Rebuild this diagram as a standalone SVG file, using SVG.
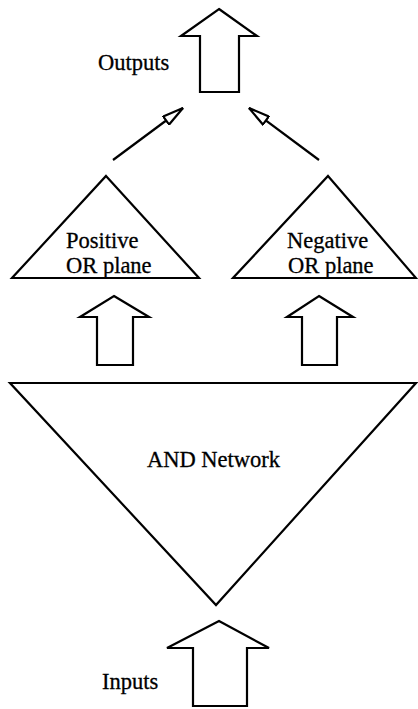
<svg xmlns="http://www.w3.org/2000/svg" width="418" height="709" viewBox="0 0 418 709">
  <defs>
    <style>
      .shape { fill: #fff; stroke: #000; stroke-width: 2.2; stroke-linejoin: miter; }
      .link { fill: none; stroke: #000; stroke-width: 2.2; }
      .lbl { font-family: "Liberation Serif", "Times New Roman", serif; font-size: 22.5px; fill: #000; stroke: #000; stroke-width: 0.3; }
    </style>
    <marker id="openHead" viewBox="0 0 24 12" refX="22" refY="6" markerWidth="24" markerHeight="12" markerUnits="userSpaceOnUse" orient="auto">
      <path d="M1,1 L22,6 L1,11 Z" fill="#fff" stroke="#000" stroke-width="2.2"/>
    </marker>
  </defs>
  <rect width="418" height="709" fill="#fff"/>

  <!-- output block arrow -->
  <g id="outputs">
    <path class="shape" d="M219,9 L257,36 L239,36 L239,92 L200,92 L200,36 L181,36 Z"/>
    <text class="lbl" x="98" y="70">Outputs</text>
  </g>

  <!-- OR planes -->
  <g id="positive-or">
    <path class="shape" d="M106,176 L199,278 L12,278 Z"/>
    <text class="lbl" x="66" y="248">Positive</text>
    <text class="lbl" x="66" y="273">OR plane</text>
  </g>
  <g id="negative-or">
    <path class="shape" d="M328,176 L416,278 L233,278 Z"/>
    <text class="lbl" x="287" y="248">Negative</text>
    <text class="lbl" x="288" y="273">OR plane</text>
  </g>

  <!-- AND network feeding both planes -->
  <g id="and-network">
    <path class="shape" d="M10,383 L416,383 L216,605 Z"/>
    <text class="lbl" x="147" y="467">AND Network</text>
  </g>

  <!-- input block arrow -->
  <g id="inputs">
    <path class="shape" d="M219,621 L269,648 L247,648 L247,706 L193,706 L193,648 L167,648 Z"/>
    <text class="lbl" x="102" y="689">Inputs</text>
  </g>

  <g id="connectors">
    <!-- AND network to OR planes -->
    <path class="shape" d="M114,296 L149,317 L133,317 L133,365 L97,365 L97,317 L80,317 Z"/>
    <path class="shape" d="M319,296 L353,317 L337,317 L337,365 L302,365 L302,317 L287,317 Z"/>
    <!-- OR planes to outputs -->
    <line class="link" x1="113" y1="160" x2="183" y2="108" marker-end="url(#openHead)"/>
    <line class="link" x1="319" y1="160" x2="249" y2="108" marker-end="url(#openHead)"/>
  </g>
</svg>
